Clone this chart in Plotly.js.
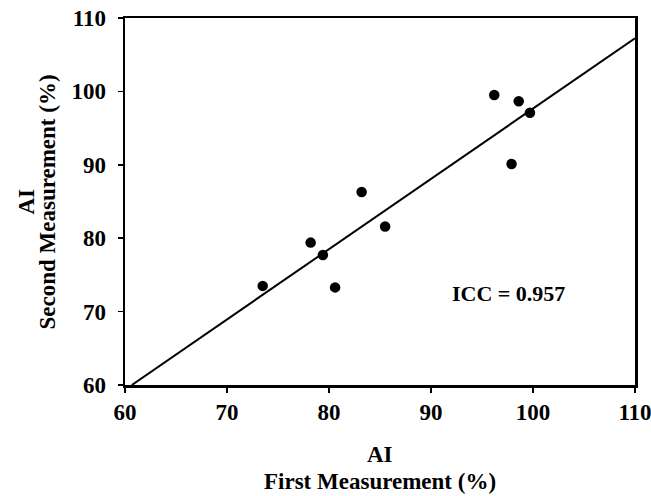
<!DOCTYPE html>
<html>
<head>
<meta charset="utf-8">
<script src="https://cdn.plot.ly/plotly-3.0.1.min.js"></script>
<style>html,body{margin:0;padding:0;background:#fff;}#chart{width:651px;height:496px;}</style>
</head>
<body>
<div id="chart"></div>
<script>
var firstMeasurement = [73.5, 78.2, 79.4, 80.6, 83.2, 85.5, 96.2, 98.6, 99.7, 97.9];
var secondMeasurement = [73.5, 79.4, 77.7, 73.3, 86.3, 81.6, 99.5, 98.65, 97.1, 90.1];
var fitLineX = [60.67, 110];
var fitLineY = [60, 107.23];
var iccLabel = "ICC = 0.957";
var xTicks = [60, 70, 80, 90, 100, 110];
var yTicks = [60, 70, 80, 90, 100, 110];
var xTitleLines = ["AI", "First Measurement (%)"];
var yTitleLines = ["AI", "Second Measurement (%)"];

var fam = "Liberation Serif, Times New Roman, serif";

var traces = [
  {x: fitLineX, y: fitLineY, mode: "lines", type: "scatter",
   line: {color: "#000", width: 2}, hoverinfo: "skip", showlegend: false},
  {x: firstMeasurement, y: secondMeasurement, mode: "markers", type: "scatter",
   marker: {color: "#000", size: 10.5}, showlegend: false}
];

function titleAnn(text, x, y, angle) {
  return {xref: "paper", yref: "paper", x: x, y: y, text: "<b>" + text + "</b>",
          showarrow: false, textangle: angle, xanchor: "center", yanchor: "middle",
          font: {family: fam, size: 23, color: "#000"}};
}

var layout = {
  width: 651, height: 496,
  margin: {l: 125, r: 16, t: 18, b: 111},
  paper_bgcolor: "#fff", plot_bgcolor: "#fff",
  showlegend: false,
  font: {family: fam, color: "#000", size: 22},
  xaxis: {
    range: [60, 110], tickvals: xTicks, ticktext: xTicks.map(String),
    showgrid: false, zeroline: false,
    showline: true, linecolor: "#000", linewidth: 2.5, mirror: true,
    ticks: "outside", ticklen: 5, tickwidth: 1.5, tickcolor: "#000",
    ticklabeloverflow: "allow",
    tickfont: {family: fam, size: 23, color: "#000", weight: "bold"}
  },
  yaxis: {
    range: [60, 110], tickvals: yTicks, ticktext: yTicks.map(String),
    showgrid: false, zeroline: false,
    showline: true, linecolor: "#000", linewidth: 2.5, mirror: true,
    ticks: "outside", ticklen: 5, tickwidth: 1.5, tickcolor: "#000",
    ticklabelstandoff: 7, ticklabeloverflow: "allow",
    tickfont: {family: fam, size: 23, color: "#000", weight: "bold"}
  },
  annotations: [
    {x: 97.6, y: 72.4, xref: "x", yref: "y", text: "<b>" + iccLabel + "</b>",
     showarrow: false, font: {family: fam, size: 22, color: "#000"}},
    titleAnn(xTitleLines[0], 0.5, -0.1907, 0),
    titleAnn(xTitleLines[1], 0.5, -0.2616, 0),
    titleAnn(yTitleLines[0], -0.194, 0.5, -90),
    titleAnn(yTitleLines[1], -0.151, 0.5, -90)
  ]
};

Plotly.newPlot("chart", traces, layout, {displayModeBar: false, staticPlot: true});
</script>
</body>
</html>
